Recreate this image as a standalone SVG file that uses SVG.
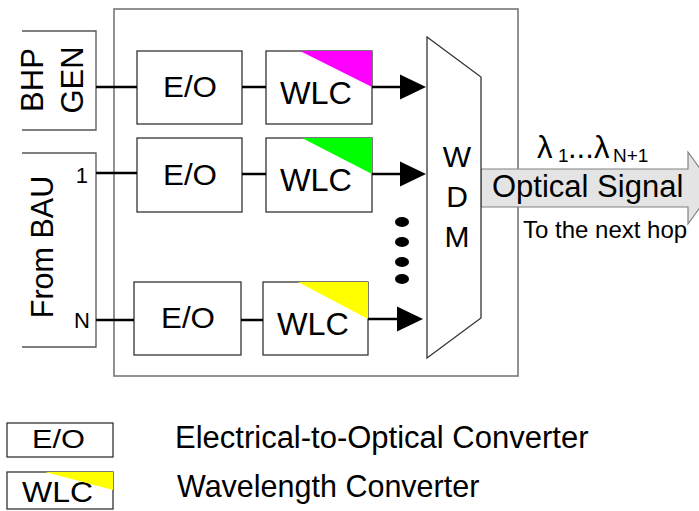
<svg xmlns="http://www.w3.org/2000/svg" width="699" height="511" viewBox="0 0 699 511">
<style>
text{font-family:"Liberation Sans",Arial,sans-serif;fill:#000}
.box{fill:#fff;stroke:#333;stroke-width:1.3}
.open{fill:none;stroke:#555;stroke-width:1.3}
.frame{fill:#fff;stroke:#777;stroke-width:1.6}
.wire{stroke:#000;stroke-width:2.5;fill:none}
.big{font-size:29px}
.wlc{font-size:31px}
</style>
<defs>
<marker id="ah" markerUnits="userSpaceOnUse" markerWidth="27" markerHeight="26" refX="0" refY="12.5" orient="auto" overflow="visible">
<path d="M0,0 L26,12.5 L0,25 Z" fill="#000"/>
</marker>
</defs>
<rect id="frame" class="frame" x="114" y="9" width="404" height="367"/>
<g id="bhp-gen">
<path class="open" d="M22,31 H96 V130 H22"/>
<text font-size="31" text-anchor="middle" x="43" y="80" transform="rotate(-90 43 80)">BHP</text>
<text font-size="31" text-anchor="middle" x="83" y="80" transform="rotate(-90 83 80)">GEN</text>
</g>
<g id="from-bau">
<path class="open" d="M22,153 H96 V347 H22"/>
<text font-size="30.5" text-anchor="middle" x="53" y="247" transform="rotate(-90 53 247)">From BAU</text>
<text font-size="22" text-anchor="end" x="88" y="183">1</text>
<text font-size="22" text-anchor="end" x="90" y="328">N</text>
</g>
<g id="eo1"><rect class="box" x="137" y="51" width="105" height="73"/><text class="big" text-anchor="middle" x="190" y="97" textLength="54" lengthAdjust="spacingAndGlyphs">E/O</text></g>
<g id="eo2"><rect class="box" x="137" y="138" width="105" height="74"/><text class="big" text-anchor="middle" x="190" y="185" textLength="54" lengthAdjust="spacingAndGlyphs">E/O</text></g>
<g id="eo3"><rect class="box" x="134" y="282" width="107" height="73"/><text class="big" text-anchor="middle" x="188" y="328" textLength="54" lengthAdjust="spacingAndGlyphs">E/O</text></g>
<g id="wlc1"><rect class="box" x="266" y="51" width="106" height="73"/><polygon points="300,51 372,51 372,87" fill="#ff00ff"/><text class="wlc" x="280" y="104" textLength="72" lengthAdjust="spacingAndGlyphs">WLC</text></g>
<g id="wlc2"><rect class="box" x="266" y="138" width="106" height="74"/><polygon points="302,138 372,138 372,174" fill="#00ff00"/><text class="wlc" x="280" y="191" textLength="72" lengthAdjust="spacingAndGlyphs">WLC</text></g>
<g id="wlc3"><rect class="box" x="263" y="282" width="105" height="73"/><polygon points="298,282 368,282 368,319" fill="#ffff00"/><text class="wlc" x="277" y="335" textLength="72" lengthAdjust="spacingAndGlyphs">WLC</text></g>
<g id="dots" fill="#000">
<ellipse cx="402" cy="222" rx="7" ry="5"/>
<ellipse cx="402" cy="242" rx="7" ry="5"/>
<ellipse cx="402" cy="262" rx="7" ry="5"/>
<ellipse cx="402" cy="279" rx="7" ry="5"/>
</g>
<g id="connectors">
<line class="wire" x1="96" y1="87" x2="137" y2="87"/>
<line class="wire" x1="96" y1="173" x2="137" y2="173"/>
<line class="wire" x1="96" y1="320" x2="134" y2="320"/>
<line class="wire" x1="242" y1="87" x2="266" y2="87"/>
<line class="wire" x1="242" y1="174" x2="266" y2="174"/>
<line class="wire" x1="241" y1="320" x2="263" y2="320"/>
<line class="wire" x1="372" y1="87" x2="400" y2="87" marker-end="url(#ah)"/>
<line class="wire" x1="372" y1="174" x2="400" y2="174" marker-end="url(#ah)"/>
<line class="wire" x1="368" y1="319" x2="397" y2="319" marker-end="url(#ah)"/>
</g>
<g id="optical-signal">
<polygon points="481,169 688,169 688,152 714,188 688,224 688,207 481,207" fill="#e4e4e4" stroke="#808080" stroke-width="1.2"/>
<text font-size="31" x="537" y="158">λ<tspan font-size="19" x="558" y="162">1</tspan><tspan x="568" y="158">...</tspan><tspan x="594" y="158">λ</tspan><tspan font-size="19" x="613" y="162">N+1</tspan></text>
<text font-size="31" x="492" y="197">Optical Signal</text>
<text font-size="24" x="523" y="238">To the next hop</text>
</g>
<g id="wdm">
<polygon points="427,37 481,77 481,318 427,358" fill="#fff" stroke="#333" stroke-width="1.3"/>
<text font-size="30" text-anchor="middle" x="457" y="167">W</text>
<text font-size="30" text-anchor="middle" x="457" y="207">D</text>
<text font-size="30" text-anchor="middle" x="457" y="247">M</text>
</g>
<g id="legend">
<rect class="box" x="7" y="423" width="106" height="34"/>
<text font-size="25" text-anchor="middle" x="58.5" y="448" textLength="53" lengthAdjust="spacingAndGlyphs">E/O</text>
<rect class="box" x="7" y="472" width="106" height="37"/>
<text font-size="30" x="22" y="502" textLength="71" lengthAdjust="spacingAndGlyphs">WLC</text>
<polygon points="45,472 113,472 113,490" fill="#ffff00"/>
<text font-size="31" x="175" y="448">Electrical-to-Optical Converter</text>
<text font-size="30.5" x="177" y="497">Wavelength Converter</text>
</g>
</svg>
